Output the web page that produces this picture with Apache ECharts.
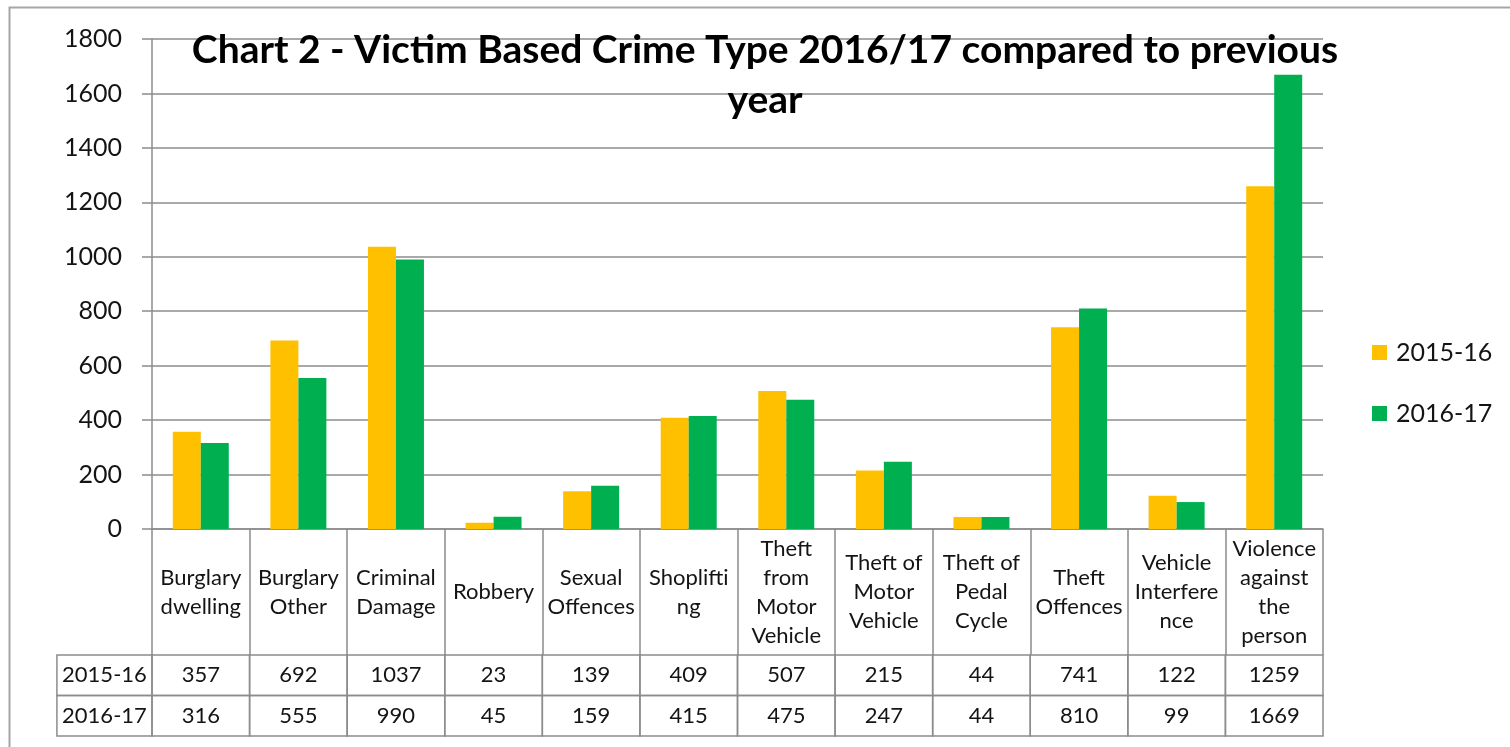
<!DOCTYPE html>
<html>
<head>
<meta charset="utf-8">
<title>Victim Based Crime Type</title>
<script src="https://cdn.jsdelivr.net/npm/echarts@6/dist/echarts.min.js"></script>
<style>
  html, body { margin: 0; padding: 0; background: #fff; }
  #chart { width: 1510px; height: 747px; }
</style>
</head>
<body>
<div id="chart"></div>
<script>
// categories as shown in the table header (with Excel's line breaks)
const categories = [
  'Burglary\ndwelling', 'Burglary\nOther', 'Criminal\nDamage', 'Robbery',
  'Sexual\nOffences', 'Shoplifti\nng', 'Theft\nfrom\nMotor\nVehicle',
  'Theft of\nMotor\nVehicle', 'Theft of\nPedal\nCycle', 'Theft\nOffences',
  'Vehicle\nInterfere\nnce', 'Violence\nagainst\nthe\nperson'
];
const seriesNames = ['2015-16', '2016-17'];
const values2015 = [357, 692, 1037, 23, 139, 409, 507, 215, 44, 741, 122, 1259];
const values2016 = [316, 555, 990, 45, 159, 415, 475, 247, 44, 810, 99, 1669];
const colors = ['#FFC000', '#00B050'];

const FONT = 'Lato, "Open Sans", sans-serif';
const GRID_COLOR = '#8c8c8c';
const TEXT_COLOR = '#141414';
const TABLE_FONT_SIZE = 22;

const chart = echarts.init(document.getElementById('chart'));

// table cells: [column, row, value]
const tableRows = [values2015, values2016];
const tableData = [];
tableRows.forEach((row, r) => {
  row.forEach((v, c) => tableData.push([c, r, v]));
});

function renderCell(params, api) {
  const c = api.value(0);
  const r = api.value(1);
  const pt = api.coord([c, r]);
  const sz = api.size([1, 1]);
  const x = pt[0] - sz[0] / 2;
  const y = pt[1] - sz[1] / 2;
  const cellStyle = { fill: 'none', stroke: GRID_COLOR, lineWidth: 1.5 };
  const font = TABLE_FONT_SIZE + 'px ' + FONT;
  const children = [
    { type: 'rect', shape: { x: x, y: y, width: sz[0], height: sz[1] }, style: cellStyle },
    { type: 'text', style: {
        x: pt[0], y: pt[1], text: String(api.value(2)),
        align: 'center', verticalAlign: 'middle', font: font, fill: TEXT_COLOR } }
  ];
  if (c === 0) {
    const lw = sz[0] - 2.5;
    children.push(
      { type: 'rect', shape: { x: x - lw, y: y, width: lw, height: sz[1] }, style: cellStyle },
      { type: 'text', style: {
          x: x - lw / 2, y: pt[1], text: seriesNames[r],
          align: 'center', verticalAlign: 'middle', font: font, fill: TEXT_COLOR } }
    );
  }
  return { type: 'group', children: children };
}

const option = {
  animation: false,
  color: colors,
  textStyle: { fontFamily: FONT },
  title: {
    text: 'Chart 2 - Victim Based Crime Type 2016/17 compared to previous\nyear',
    left: 760,
    top: 20,
    textAlign: 'center',
    textStyle: {
      fontFamily: FONT,
      fontSize: 39,
      fontWeight: 'bold',
      color: '#000',
      lineHeight: 50
    }
  },
  graphic: [{
    type: 'rect',
    left: 7, top: 5, z: -10,
    shape: { width: 1520, height: 760 },
    style: { fill: 'none', stroke: '#a6a6a6', lineWidth: 2 }
  }],
  legend: {
    orient: 'vertical',
    left: 1372,
    top: 340,
    padding: 0,
    itemWidth: 15,
    itemHeight: 15,
    itemGap: 36,
    icon: 'rect',
    data: seriesNames,
    textStyle: { fontFamily: FONT, fontSize: 25, color: TEXT_COLOR, padding: [0, 0, 0, 4] }
  },
  grid: [
    { left: 152, right: 187, top: 39, height: 490 },
    { left: 152, right: 187, top: 655, height: 81 }
  ],
  xAxis: [{
    type: 'category',
    gridIndex: 0,
    data: categories,
    axisLine: { show: true, lineStyle: { color: GRID_COLOR, width: 1.5 } },
    axisTick: { show: true, interval: 0, length: 126, lineStyle: { color: GRID_COLOR, width: 1.5 } },
    axisLabel: {
      interval: 0,
      margin: 63,
      verticalAlign: 'middle',
      lineHeight: 29,
      fontSize: TABLE_FONT_SIZE,
      fontFamily: FONT,
      color: TEXT_COLOR
    }
  }, {
    type: 'category',
    gridIndex: 1,
    data: categories,
    show: false
  }],
  yAxis: [{
    type: 'value',
    gridIndex: 0,
    min: 0,
    max: 1800,
    interval: 200,
    axisLine: { show: true, lineStyle: { color: GRID_COLOR, width: 1.5 } },
    axisTick: { show: true, length: 10, lineStyle: { color: GRID_COLOR, width: 1.5 } },
    splitLine: { lineStyle: { color: GRID_COLOR, width: 1.5 } },
    axisLabel: {
      margin: 30, fontSize: 25, fontFamily: FONT, color: TEXT_COLOR,
      formatter: (v) => String(v)
    }
  }, {
    type: 'category',
    gridIndex: 1,
    data: seriesNames,
    inverse: true,
    show: false
  }],
  series: [{
    name: seriesNames[0],
    type: 'bar',
    data: values2015,
    barWidth: 28,
    barGap: '0%'
  }, {
    name: seriesNames[1],
    type: 'bar',
    data: values2016,
    barWidth: 28,
    barGap: '0%'
  }, {
    type: 'custom',
    xAxisIndex: 1,
    yAxisIndex: 1,
    clip: false,
    silent: true,
    renderItem: renderCell,
    data: tableData
  }]
};

chart.setOption(option);
window.addEventListener('resize', () => chart.resize());
</script>
</body>
</html>
